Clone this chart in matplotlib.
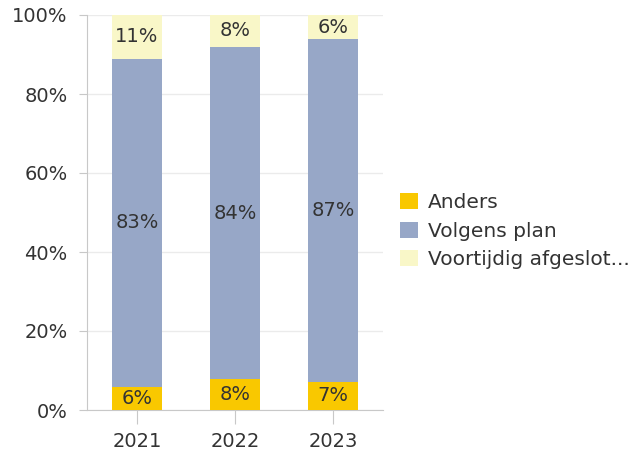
import matplotlib
matplotlib.use('Agg')
import matplotlib.pyplot as plt
import numpy as np

years = ['2021', '2022', '2023']
anders = [5.8, 7.8, 7.1]
volgens_plan = [83.1, 84.1, 86.8]
voortijdig = [11.1, 8.1, 6.1]
anders_labels = ['6%', '8%', '7%']
volgens_labels = ['83%', '84%', '87%']
voortijdig_labels = ['11%', '8%', '6%']

series = [
    ('Anders', anders, anders_labels, '#F9C800'),
    ('Volgens plan', volgens_plan, volgens_labels, '#97A7C7'),
    ('Voortijdig afgeslot...', voortijdig, voortijdig_labels, '#F9F7C8'),
]

plt.rcParams['font.family'] = ['DejaVu Sans']
text_color = '#333333'

fig = plt.figure(figsize=(6.41, 4.53), dpi=100)
ax = fig.add_axes([87 / 641, 43 / 453, 296 / 641, 395 / 453])

x = np.arange(len(years))
bottom = np.zeros(len(years))
for name, vals, labels, color in series:
    vals = np.array(vals)
    ax.bar(x, vals, width=0.51, bottom=bottom, color=color, label=name, zorder=3)
    for xi, b, v, lab in zip(x, bottom, vals, labels):
        ax.text(xi, b + v / 2, lab, ha='center', va='center', fontsize=14,
                color=text_color, zorder=4)
    bottom += vals

ax.set_xlim(-0.51, 2.51)
ax.set_ylim(0, 100)
ax.set_yticks(range(0, 101, 20))
ax.set_yticklabels([f'{v}%' for v in range(0, 101, 20)])
ax.set_xticks(x)
ax.set_xticklabels(years)
ax.grid(axis='y', color='#EBEBEB', linewidth=1, zorder=0)

for side in ['top', 'right']:
    ax.spines[side].set_visible(False)
for side in ['left', 'bottom']:
    ax.spines[side].set_color('#C8C8C8')
ax.tick_params(axis='y', colors='#C8C8C8', labelcolor=text_color, labelsize=14, length=6, pad=8)
ax.tick_params(axis='x', colors='#C8C8C8', labelcolor=text_color, labelsize=14, length=10, pad=6)

handles, labels = ax.get_legend_handles_labels()
fig.legend(handles, labels, loc='center left', bbox_to_anchor=(382 / 641, 0.49),
           frameon=False, fontsize=14.5, labelcolor=text_color, handlelength=0.9,
           handleheight=0.85, handletextpad=0.5, labelspacing=0.48)

plt.savefig('out.png', dpi=100)
plt.close()
